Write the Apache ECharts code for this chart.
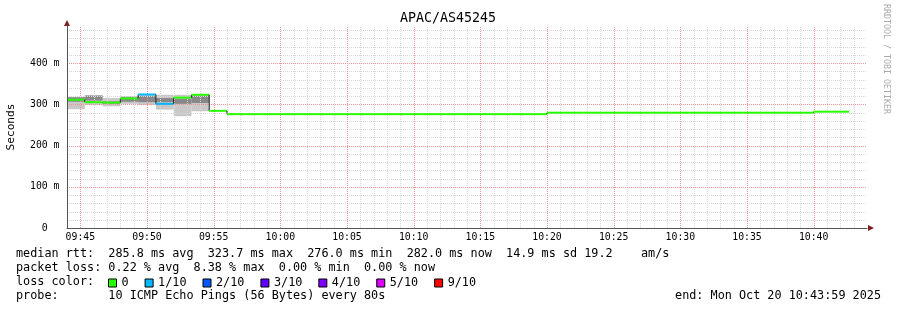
<!DOCTYPE html>
<html><head><meta charset="utf-8">
<script src="https://cdn.jsdelivr.net/npm/echarts@6/dist/echarts.min.js"></script>
<style>html,body{margin:0;padding:0;background:#fff}#c{width:897px;height:310px}</style>
</head><body><div id="c"></div>
<script>
// ---- data ----
const chartTitle = 'APAC/AS45245';
const xMin = '09:44:00';
const xMax = '10:44:00';
// step boundaries (80 s steps); last entry is the end of the last step
const stepTimes = ['09:44:00','09:45:20','09:46:40','09:48:00','09:49:20','09:50:40','09:52:00','09:53:20','09:54:40',
  '09:56:00','09:57:20','09:58:40','10:00:00','10:01:20','10:02:40','10:04:00','10:05:20','10:06:40','10:08:00',
  '10:09:20','10:10:40','10:12:00','10:13:20','10:14:40','10:16:00','10:17:20','10:18:40','10:20:00','10:21:20',
  '10:22:40','10:24:00','10:25:20','10:26:40','10:28:00','10:29:20','10:30:40','10:32:00','10:33:20','10:34:40',
  '10:36:00','10:37:20','10:38:40','10:40:00','10:41:20','10:42:40'];
// median rtt (ms) per step
const medianRtt = [311, 305, 304, 314, 323.7, 301, 316, 323, 284,
  276, 276, 276, 276, 276, 276, 276, 276, 276, 276, 276, 276, 276, 276, 276, 276, 276, 276,
  279.5, 279.5, 279.5, 279.5, 279.5, 279.5, 279.5, 279.5, 279.5, 279.5, 279.5, 279.5, 279.5, 279.5, 279.5,
  282, 282];
// lost pings out of 10 per step
const lossTenths = [0, 0, 0, 0, 1, 1, 0, 0, 0,
  0, 0, 0, 0, 0, 0, 0, 0, 0, 0, 0, 0, 0, 0, 0, 0, 0, 0,
  0, 0, 0, 0, 0, 0, 0, 0, 0, 0, 0, 0, 0, 0, 0, 0, 0];
// smoke (ms) for the steps that have it
const smokeMin = [288, 298, 295, 301, 298, 287, 271, 283];
const smokeLo  = [306, 309, 301, 306, 305, 305, 301, 303];
const smokeHi  = [317, 321, 307, 317, 320, 315, 313, 321];
const smokeMax = [318, 322, 315, 320, 324, 323, 323, 325];
const yMax = 490;
const yMinorStep = 20, yMajorStep = 100;
const xMinorStep = 60, xMajorStep = 300;
const lossLabels = ['0', '1/10', '2/10', '3/10', '4/10', '5/10', '9/10'];
const lossColors = ['#26ff00', '#00b8ff', '#0059ff', '#5e00ff', '#7e00ff', '#dd00ff', '#ff0000'];
const statLines = [
  'median rtt:  285.8 ms avg  323.7 ms max  276.0 ms min  282.0 ms now  14.9 ms sd 19.2    am/s',
  'packet loss: 0.22 % avg  8.38 % max  0.00 % min  0.00 % now',
  'loss color:',
  'probe:       10 ICMP Echo Pings (56 Bytes) every 80s'
];
const endText = 'end: Mon Oct 20 10:43:59 2025';
const yAxisName = 'Seconds';
const watermark = 'RRDTOOL / TOBI OETIKER';

// ---- helpers ----
const MONO = 'DejaVu Sans Mono';
const toSec = s => { const p = s.split(':').map(Number); return p[0] * 3600 + p[1] * 60 + p[2]; };
const pad = n => (n < 10 ? '0' : '') + n;
const hhmm = v => pad(Math.floor(v / 3600)) + ':' + pad(Math.floor((v % 3600) / 60));
const lossIndex = l => l <= 5 ? l : (l >= 9 ? 6 : 5);
const t = stepTimes.map(toSec);
const X0 = toSec(xMin), X1 = toSec(xMax);

// grid line rows: [x, y, isVertical]
const minorRows = [], majorRows = [];
for (let v = X0 + xMinorStep; v < X1; v += xMinorStep) (v % xMajorStep === 0 ? majorRows : minorRows).push([v, 0, 1]);
for (let v = yMinorStep; v < yMax; v += yMinorStep) (v % yMajorStep === 0 ? majorRows : minorRows).push([X0, v, 0]);

const outerData = smokeMin.map((v, i) => [t[i], t[i + 1], smokeMin[i], smokeMax[i]]);
const coreData = smokeLo.map((v, i) => [t[i], t[i + 1], smokeLo[i], smokeHi[i]]);
const medData = medianRtt.map((v, i) => [t[i], t[i + 1], v, i > 0 ? medianRtt[i - 1] : v, lossTenths[i]]);

function bandRender(color) {
  return function (params, api) {
    const a = api.coord([api.value(0), api.value(3)]);
    const b = api.coord([api.value(1), api.value(2)]);
    return { type: 'rect', shape: { x: a[0], y: a[1], width: b[0] - a[0], height: b[1] - a[1] }, style: { fill: color } };
  };
}
function gridRender(color) {
  return function (params, api) {
    const cs = params.coordSys;
    const p = api.coord([api.value(0), api.value(1)]);
    let shape;
    if (api.value(2) === 1) {
      const px = Math.round(p[0]) + 0.5;
      shape = { x1: px, y1: cs.y + cs.height, x2: px, y2: cs.y };
    } else {
      const py = Math.round(p[1]) + 0.5;
      shape = { x1: cs.x, y1: py, x2: cs.x + cs.width, y2: py };
    }
    return { type: 'line', shape: shape, style: { stroke: color, fill: null, lineWidth: 1, lineDash: [1, 1], opacity: 1 } };
  };
}

const chart = echarts.init(document.getElementById('c'), null, { renderer: 'canvas' });
const legendSeries = lossLabels.map((n, i) => ({ type: 'line', name: n, data: [], color: lossColors[i] }));
const textStyleSmall = { fontFamily: MONO, fontSize: 9.8, color: '#000' };

chart.setOption({
  animation: false,
  backgroundColor: '#fff',
  grid: { left: 67, top: 228 - yMax * 0.4125, width: 800, height: yMax * 0.4125, containLabel: false, outerBoundsMode: 'none' },
  xAxis: [{
    type: 'value', min: X0, max: X1, interval: xMinorStep, z: 10,
    axisLine: { show: true, lineStyle: { color: '#555', width: 1 } },
    axisTick: { show: false },
    axisLabel: Object.assign({ margin: 4, formatter: v => (v % xMajorStep === 0 ? hhmm(v) : '') }, textStyleSmall),
    splitLine: { show: false }
  }],
  yAxis: [{
    type: 'value', min: 0, max: yMax, interval: yMajorStep, position: 'left', z: 10,
    axisLine: { show: true, lineStyle: { color: '#555', width: 1 } },
    axisTick: { show: false },
    axisLabel: Object.assign({ margin: 7.5, showMaxLabel: false, formatter: v => (v % yMajorStep !== 0 ? '' : (v === 0 ? '0  ' : v + ' m')) }, textStyleSmall),
    splitLine: { show: false }
  }],
  legend: {
    left: 108, top: 277, padding: 0, itemWidth: 8, itemHeight: 8, itemGap: 16, icon: 'rect',
    textStyle: { fontFamily: MONO, fontSize: 11.8, color: '#000' },
    data: lossLabels.map((n, i) => ({ name: n, itemStyle: { color: lossColors[i], borderColor: '#000', borderWidth: 1 } }))
  },
  series: [
    { type: 'custom', name: 'smokeOuter', z: 1, clip: true, data: outerData, encode: { x: [0, 1], y: [2, 3] }, renderItem: bandRender('#c8c8c8') },
    { type: 'custom', name: 'smokeCore', z: 2, clip: true, data: coreData, encode: { x: [0, 1], y: [2, 3] }, renderItem: bandRender('#888888') },
    { type: 'custom', name: 'minorGrid', z: 3, silent: true, data: minorRows, encode: { x: 0, y: 1 }, renderItem: gridRender('#d8d8d8') },
    { type: 'custom', name: 'majorGrid', z: 4, silent: true, data: majorRows, encode: { x: 0, y: 1 }, renderItem: gridRender('#eb9595') },
    { type: 'custom', name: 'median', z: 5, clip: true, data: medData, encode: { x: [0, 1], y: [2, 3] },
      renderItem: function (params, api) {
        const a = api.coord([api.value(0), api.value(2)]);
        const b = api.coord([api.value(1), api.value(2)]);
        const p = api.coord([api.value(0), api.value(3)]);
        const c = lossColors[lossIndex(api.value(4))];
        return { type: 'group', children: [
          { type: 'line', shape: { x1: a[0], y1: p[1], x2: a[0], y2: a[1] }, style: { stroke: '#202020', lineWidth: 1 } },
          { type: 'rect', shape: { x: a[0], y: a[1] - 1, width: b[0] - a[0], height: 2 }, style: { fill: c } }
        ] };
      } }
  ].concat(legendSeries),
  graphic: [
    { type: 'text', x: 448, y: 19, style: { text: chartTitle, fontFamily: MONO, fontSize: 13.3, fill: '#000', align: 'center', verticalAlign: 'middle' } },
    { type: 'text', x: 11, y: 127, rotation: Math.PI / 2, style: { text: yAxisName, fontFamily: MONO, fontSize: 11.2, fill: '#000', align: 'center', verticalAlign: 'middle' } },
    { type: 'text', x: 886, y: 59, rotation: -Math.PI / 2, style: { text: watermark, fontFamily: MONO, fontSize: 8.3, fill: '#aaaaaa', align: 'center', verticalAlign: 'middle' } },
    { type: 'text', x: 16, y: 254, style: { text: statLines[0], fontFamily: MONO, fontSize: 11.8, fill: '#000', verticalAlign: 'middle' } },
    { type: 'text', x: 16, y: 268, style: { text: statLines[1], fontFamily: MONO, fontSize: 11.8, fill: '#000', verticalAlign: 'middle' } },
    { type: 'text', x: 16, y: 282, style: { text: statLines[2], fontFamily: MONO, fontSize: 11.8, fill: '#000', verticalAlign: 'middle' } },
    { type: 'text', x: 16, y: 296, style: { text: statLines[3], fontFamily: MONO, fontSize: 11.8, fill: '#000', verticalAlign: 'middle' } },
    { type: 'text', x: 881, y: 296, style: { text: endText, fontFamily: MONO, fontSize: 11.8, fill: '#000', align: 'right', verticalAlign: 'middle' } },
    { type: 'polygon', shape: { points: [[64, 26], [70, 26], [67, 20]] }, style: { fill: '#801f1f' } },
    { type: 'polygon', shape: { points: [[868, 225], [868, 231], [874, 228]] }, style: { fill: '#801f1f' } }
  ]
});
</script></body></html>
